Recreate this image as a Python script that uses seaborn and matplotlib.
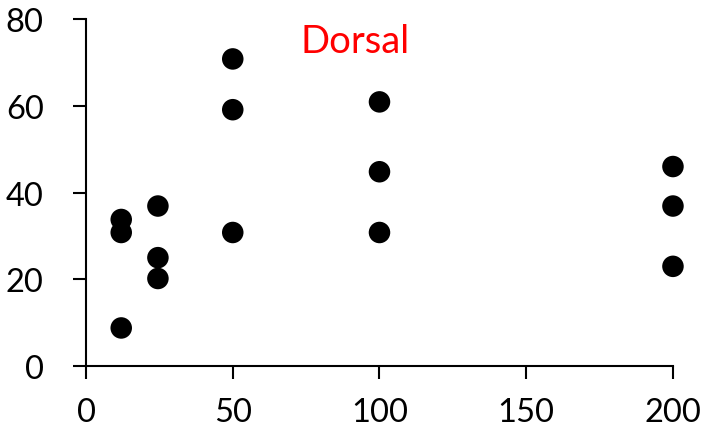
import matplotlib
matplotlib.use("Agg")
import matplotlib.pyplot as plt
import seaborn as sns
import pandas as pd

# Dose (x) and response (y) for the dorsal measurements
dose = [12, 12, 12, 24.5, 24.5, 24.5, 50, 50, 50, 100, 100, 100, 200, 200, 200]
response = [33.8, 30.8, 8.8, 36.9, 25.0, 20.2, 70.8, 59.1, 30.8,
            60.9, 44.8, 30.8, 46.0, 36.9, 23.0]
x_ticks = [0, 50, 100, 150, 200]
y_ticks = [0, 20, 40, 60, 80]
title = "Dorsal"

df = pd.DataFrame({"dose": dose, "response": response})

sns.set_theme(style="white")
plt.rcParams["font.family"] = ["Lato", "DejaVu Sans"]

fig = plt.figure(figsize=(7.01, 4.35), dpi=100)
ax = fig.add_axes([0.1227, 0.156, 0.8373, 0.798])

sns.scatterplot(data=df, x="dose", y="response", ax=ax, color="black",
                s=240, edgecolor="none", linewidth=0, clip_on=False, zorder=3)

ax.set_xlim(0, 200)
ax.set_ylim(0, 80)
ax.set_xticks(x_ticks)
ax.set_yticks(y_ticks)
ax.set_xlabel("")
ax.set_ylabel("")

for side in ("top", "right"):
    ax.spines[side].set_visible(False)
for side in ("left", "bottom"):
    ax.spines[side].set_color("black")
    ax.spines[side].set_linewidth(1.5)

ax.tick_params(axis="both", which="major", direction="out", length=9.5,
               width=1.5, color="black", labelsize=23.5, labelcolor="black")
ax.tick_params(axis="y", pad=21)
ax.tick_params(axis="x", pad=13)
ax.tick_params(left=True, bottom=True)

ax.text(0.458, 0.906, title, transform=ax.transAxes, color="red",
        fontsize=27.5, ha="center", va="baseline")

fig.savefig("out.png", dpi=100)
